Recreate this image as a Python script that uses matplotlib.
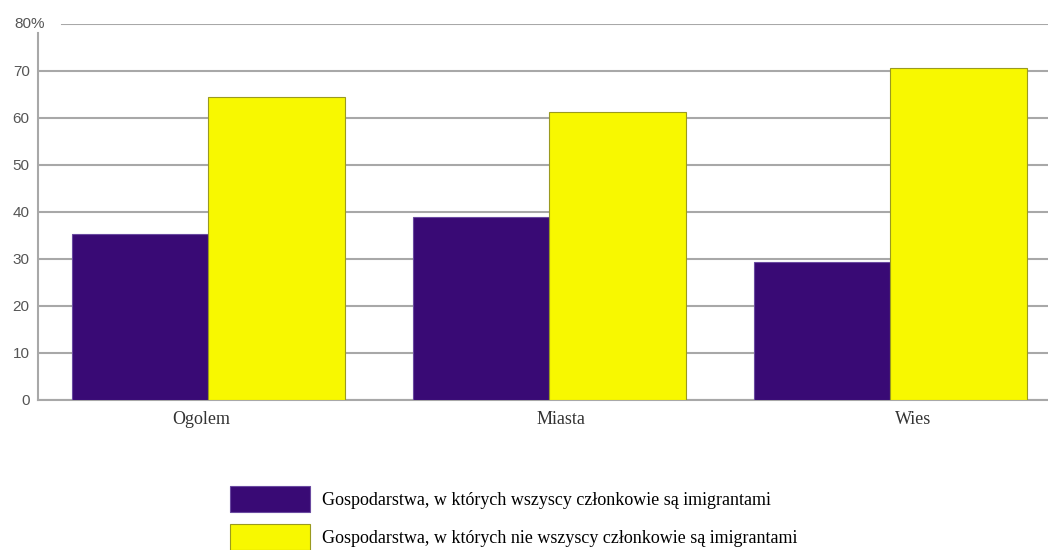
import numpy as np
import matplotlib
matplotlib.use('Agg')
import matplotlib.pyplot as plt

# data
categories = ['Ogolem', 'Miasta', 'Wies']
all_immigrants = [35.3, 38.8, 29.4]
not_all_immigrants = [64.5, 61.2, 70.6]
series_labels = ['Gospodarstwa, w których wszyscy członkowie są imigrantami',
                 'Gospodarstwa, w których nie wszyscy członkowie są imigrantami']
yticks = [0, 10, 20, 30, 40, 50, 60, 70, 80]

purple = '#390a75'
yellow = '#f8f800'
grid_col = '#a8a8a8'

fig = plt.figure(figsize=(10.48, 5.5), dpi=100)
ax = fig.add_axes([38 / 1048, 1 - 399.7 / 550, 1010 / 1048, 376 / 550])

x = np.arange(len(categories))
w = 0.4
b1 = ax.bar(x - w / 2, all_immigrants, w, color=purple, edgecolor='#6a4aa0',
            linewidth=0.8, zorder=3, label=series_labels[0])
b2 = ax.bar(x + w / 2, not_all_immigrants, w, color=yellow, edgecolor='#9a9a20',
            linewidth=0.8, zorder=3, label=series_labels[1])

ax.set_xlim(-0.5, 2.462)
ax.set_ylim(0, 80)

ax.set_yticks(yticks)
ax.set_yticklabels([str(t) for t in yticks[:-1]] + [''])
ax.tick_params(axis='y', length=0, pad=6, labelsize=11, labelcolor='#555555')
for lab in ax.get_yticklabels():
    lab.set_fontfamily('Liberation Sans')
ax.text(0.007, yticks[-1], '80%', transform=ax.get_yaxis_transform(),
        ha='right', va='center', fontsize=11, color='#555555',
        family='Liberation Sans')

# category labels sit a little off the group centres in the original
label_shift = [-0.02, 0.034, 0.066]
ax.set_xticks(x + np.array(label_shift))
ax.set_xticklabels(categories, fontsize=13, family='Liberation Serif', color='#333333')
ax.tick_params(axis='x', length=0, pad=8)

# gridlines (top one starts a bit right of the axis)
ax.yaxis.grid(True, color=grid_col, linewidth=1.5, zorder=0)
ax.set_axisbelow(True)
ax.get_ygridlines()[-1].set_visible(False)
ax.axhline(yticks[-1], xmin=0.024, color=grid_col, linewidth=1.5, zorder=0)

for s in ['top', 'right']:
    ax.spines[s].set_visible(False)
ax.spines['left'].set_color(grid_col)
ax.spines['left'].set_linewidth(1.5)
ax.spines['left'].set_bounds(0, 78)
ax.spines['bottom'].set_color(grid_col)
ax.spines['bottom'].set_linewidth(1.5)

fig.legend(handles=[b1, b2], labels=series_labels, loc='upper left',
           bbox_to_anchor=(230 / 1048, 1 - 486 / 550), frameon=False,
           prop={'family': 'Liberation Serif', 'size': 13},
           handlelength=4.43, handleheight=1.85, labelspacing=0.66,
           handletextpad=0.66, borderpad=0, borderaxespad=0)

fig.savefig('out.png', dpi=100)
